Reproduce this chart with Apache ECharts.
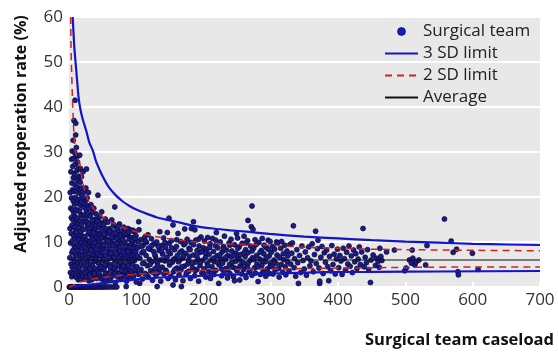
<!DOCTYPE html>
<html><head><meta charset="utf-8">
<script src="https://cdn.jsdelivr.net/npm/echarts@6/dist/echarts.min.js"></script>
<style>html,body{margin:0;padding:0;background:#fff}#c{width:558px;height:352px}</style>
</head><body><div id="c"></div>
<script>
// ---- data: [caseload, adjusted reoperation rate %] ----
const zeroRateTeams = [[0.5,0],[1.5,0],[2.5,0],[3.5,0],[4.5,0],[5.5,0],[6.5,0],[7.5,0],[8.5,0],[9.5,0],[11,0],[12.5,0],[14,0],[15.5,0],[17,0],[18.5,0],[20,0],[21.5,0],[23,0],[24.5,0],[26,0],[28,0],[30,0],[32,0],[34,0],[36,0],[38,0],[40,0],[42.5,0],[45,0],[47.5,0],[50,0],[53,0],[56,0],[59,0],[63,0],[67,0],[71,0],[85,0.1],[105,0.8],[131,0.1],[154.6,0.45],[167,0.1]];
const teamsUnder10 = [[1.2,6.5],[1.5,13],[1.8,21],[2.1,3.2],[2.3,9.8],[2.6,17.5],[2.8,25.6],[3.1,5.1],[3.3,11.9],[3.5,15.4],[3.7,19.8],[3.9,28.4],[4.1,2.3],[4.3,7.6],[4.4,23.1],[4.6,13.7],[4.8,30.2],[5.0,4.4],[5.2,10.3],[5.3,17.1],[5.5,21.6],[5.7,26.8],[5.9,8.1],[6.0,14.9],[6.2,32.6],[6.3,2.9],[6.5,19.1],[6.6,24.3],[6.8,6.2],[6.9,11.4],[7.1,28.6],[7.2,16.3],[7.4,37.0],[7.5,21.2],[7.7,3.9],[7.8,9.1],[8.0,13.2],[8.1,25.2],[8.3,18.4],[8.4,29.9],[8.6,5.6],[8.7,22.8],[8.9,10.7],[9.0,41.5],[9.1,15.6],[9.2,27.3],[9.4,2.6],[9.5,7.3],[9.6,19.9],[9.8,12.4],[9.9,33.8],[10.0,36.4],[10.1,24.1],[10.2,4.8],[10.3,17.2],[10.4,8.8],[10.6,29.1],[10.7,21.4],[10.8,14.3],[10.9,31.0]];
const teams10to20 = [[11.2,2.1],[11.4,6.9],[11.5,12.1],[11.7,18.7],[11.9,25.9],[12.1,9.6],[12.2,15.3],[12.4,22.2],[12.6,3.7],[12.7,27.8],[12.9,11.0],[13.0,29.1],[13.2,5.5],[13.3,19.4],[13.5,14.1],[13.7,23.6],[13.8,8.2],[14.0,1.6],[14.1,17.0],[14.3,26.4],[14.5,10.5],[14.6,20.9],[14.8,4.3],[15.0,13.2],[15.1,24.6],[15.3,7.4],[15.5,16.8],[15.6,2.8],[15.8,21.7],[15.9,29.3],[16.0,11.6],[16.2,5.9],[16.3,18.2],[16.5,9.0],[16.7,23.3],[16.8,14.7],[17.0,3.4],[17.2,26.3],[17.3,7.0],[17.5,19.6],[17.7,12.3],[17.9,1.9],[18.0,16.0],[18.2,22.0],[18.4,24.5],[18.4,9.9],[18.7,5.1],[18.9,13.9],[19.0,18.9],[19.2,3.0],[19.4,8.6],[19.6,20.4],[19.7,11.3],[19.9,15.9],[20.0,6.4]];
const teams20to30 = [[20.4,2.4],[20.7,12.8],[20.8,25.6],[20.8,7.0],[21.0,17.7],[21.2,3.3],[21.6,9.3],[21.9,4.6],[22.0,10.8],[22.2,14.6],[22.5,21.1],[22.8,7.8],[22.9,16.0],[23.0,1.7],[23.3,11.2],[23.6,18.6],[23.8,8.0],[23.9,5.3],[24.2,15.2],[24.5,3.1],[24.7,9.7],[24.8,19.4],[25.0,22.0],[25.3,12.9],[25.6,7.1],[25.9,16.9],[25.9,4.0],[26.0,26.2],[26.3,2.2],[26.6,10.4],[26.8,14.5],[26.9,19.8],[27.2,5.8],[27.5,13.7],[27.6,18.0],[27.8,8.5],[28.0,3.6],[28.3,16.2],[28.4,6.2],[28.6,11.8],[28.9,21.0],[29.0,10.0],[29.2,6.7],[29.5,1.4],[29.6,17.5],[29.8,14.0],[30.0,9.4],[30.0,4.5]];
const teams30to50 = [[30.5,12.2],[30.8,2.7],[31.0,9.0],[31.2,7.5],[31.5,15.7],[31.9,10.1],[32.3,5.0],[32.6,18.3],[33.0,3.8],[33.0,11.5],[33.4,13.1],[33.8,8.9],[34.1,1.6],[34.5,11.0],[34.9,16.6],[35.0,4.8],[35.3,6.3],[35.7,14.2],[36.0,3.2],[36.4,9.2],[36.8,17.5],[37.0,7.0],[37.2,12.6],[37.6,5.7],[38.0,2.1],[38.4,15.0],[38.8,7.9],[39.0,13.0],[39.2,10.8],[39.6,4.1],[40.0,13.6],[40.4,16.2],[40.8,6.6],[41.0,11.0],[41.2,1.9],[41.6,9.6],[42.0,12.0],[42.4,3.5],[42.8,15.1],[43.0,20.4],[43.0,5.5],[43.6,7.2],[44.0,10.4],[44.4,5.2],[44.8,13.3],[45.0,11.8],[45.2,2.5],[45.6,8.4],[46.0,15.6],[46.4,11.5],[46.8,4.6],[47.0,9.8],[47.2,6.9],[47.6,14.1],[48.0,9.1],[48.4,1.8],[48.6,16.7],[48.8,12.7],[49.0,14.3],[49.2,3.9],[49.6,7.6],[50.0,10.9],
  [31.5,4.0],[32.5,8.2],[33.5,6.3],[34.5,14.8],[35.5,10.5],[36.5,12.0],[37.5,2.9],[38.5,9.9],[39.5,6.1],[40.5,8.3],[41.5,14.6],[42.5,7.4],[43.5,9.3],[44.5,3.1],[45.5,13.9],[46.5,7.0],[47.5,4.4],[48.5,11.0],[49.5,5.9]];
const teams50to100 = [[50.5,2.3],[51,6.1],[51.5,13.8],[52,8.6],[52.5,4.3],[53,11.4],[53.5,1.2],[54,15.1],[54.5,7.0],[55,9.9],[55.5,3.1],[56,12.5],[56.5,5.5],[57,10.6],[57.5,14.4],[58,2.0],[58.5,7.8],[59,4.8],[59.5,11.9],[60,9.1],[60.5,6.4],[61,13.0],[61.5,1.5],[62,3.7],[62.5,10.2],[63,8.0],[63.5,14.9],[64,5.0],[64.5,12.2],[65,2.7],[65.5,7.1],[66.5,9.6],[67,4.2],[67.5,11.1],[68,17.8],[68,6.0],[68.5,13.5],[69,1.0],[69.5,8.5],[70,3.4],[70.5,10.8],[71,5.7],[71.5,12.9],[72,7.5],[72.5,2.2],[73,9.3],[73.5,4.6],[74,11.7],[74.5,6.8],[75,14.0],[75.5,3.0],[76,8.9],[76.5,10.3],[77,5.2],[77.5,1.7],[78,12.4],[78.5,7.3],[79,4.0],[79.5,9.8],[80,6.3],[80.5,11.2],[81,2.6],[81.5,13.3],[82,8.1],[82.5,5.0],[83,10.0],[83.5,3.5],[84,7.0],[84.5,12.0],[87.7,13.0],[85.5,1.3],[86,9.2],[86.5,4.4],[87,6.6],[87.5,11.5],[88,2.9],[88.5,8.4],[89,5.8],[89.5,10.6],[90,3.8],[90.5,7.7],[91,12.7],[91.5,1.9],[92,9.5],[92.5,5.4],[93,6.9],[93.5,11.0],[94,3.2],[94.5,8.2],[95,4.9],[95.5,10.1],[96,2.4],[96.5,7.2],[97,12.3],[97.5,5.9],[98,9.0],[98.5,3.6],[99,6.5],[99.5,11.4],[100,1.1],
  [51.2,9.3],[52.2,11.7],[53.2,4.9],[54.2,3.0],[55.2,12.9],[56.2,8.4],[57.2,2.6],[58.2,10.3],[59.2,6.5],[60.2,12.4],[61.2,4.5],[62.2,7.5],[63.2,11.0],[64.2,2.4],[65.2,9.2],[66.2,13.9],[67.2,6.6],[68.2,3.0],[69.2,11.9],[70.2,7.4],[71.2,9.7],[72.2,4.8],[73.2,13.5],[74.2,2.9],[75.2,8.0],[76.2,5.6],[77.2,11.4],[78.2,3.7],[79.2,10.6],[80.2,4.6],[81.2,7.8],[82.2,12.0],[83.2,6.2],[84.2,9.0],[85.2,2.3],[86.2,11.9],[87.2,7.9],[88.2,4.7],[89.2,12.2],[90.2,6.0],[91.2,8.8],[92.2,3.4],[93.2,10.4],[94.2,6.0],[95.2,12.6],[96.2,8.6],[97.2,3.9],[98.2,10.8],[99.2,7.9]];
const teams100to200 = [[100.8,4.5],[101.9,8.7],[103.6,14.5],[104,12.7],[103.7,2.8],[105.1,6.4],[106.3,10.5],[107.0,3.9],[108.4,7.6],[109.2,1.8],[110.1,9.3],[111.5,5.3],[112.3,11.0],[113.0,3.0],[114.6,7.0],[115.2,9.9],[116.4,4.7],[117.3,11.6],[118.1,2.2],[119.5,6.1],[120.2,8.4],[121.4,3.6],[122.6,10.7],[123.3,5.6],[124.1,1.5],[125.7,7.9],[126.2,9.6],[127.8,4.1],[128.5,6.7],[129.3,2.6],[130.4,10.0],[131.6,5.0],[135,12.3],[133.5,3.3],[134.1,8.1],[135.7,6.0],[136.3,1.3],[137.0,9.2],[138.6,4.4],[139.2,7.3],[140.5,10.9],[141.1,2.9],[142.7,5.8],[143.4,8.8],[144.0,3.7],[145.6,6.6],[146.1,12.1],[147.3,1.9],[148.6,15.3],[148.8,9.7],[149.5,4.9],[150.7,7.4],[151.4,2.4],[152.2,10.3],[153.6,5.5],[154.6,13.8],[155.3,3.4],[156.9,8.3],[157.4,6.3],[158.2,1.6],[159.7,9.0],[160.4,4.2],[161.1,7.0],[162.0,11.9],[163.5,2.7],[164.2,5.9],[165.8,10.1],[166.3,3.8],[167.6,8.0],[168.9,6.4],[169.4,1.4],[170.7,9.4],[171.3,4.6],[172.0,12.9],[173.5,7.5],[174.1,2.8],[175.6,10.6],[176.2,5.1],[177.9,3.5],[178.4,8.6],[179.0,6.8],[180.5,1.9],[181.3,9.9],[182.0,13.0],[183.6,4.3],[185.0,14.5],[185.0,7.1],[187.0,12.7],[186.8,2.5],[187.5,5.5],[188.3,10.4],[189.9,3.9],[190.4,8.1],[191.2,6.2],[192.6,1.3],[193.3,9.1],[194.7,4.8],[195.4,7.7],[196.1,11.1],[197.5,3.1],[198.2,5.9],[199.7,8.7],
  [101.5,6.9],[103,10.0],[105.5,3.1],[107.5,9.0],[109.5,5.2],[111,7.9],[113.5,10.2],[115.5,2.7],[118,8.6],[120.5,5.0],[123,9.2],[125,3.2],[127.5,7.2],[130,5.8],[132.5,9.0],[135,4.0],[137.5,8.0],[140,6.0],[142.5,9.9],[145,3.3],[147.5,7.9],[150,5.5],
  [152.5,8.7],[155,6.1],[157.5,3.9],[160,10.5],[162.5,5.6],[165,7.7],[167.5,4.5],[170,6.8],[172.5,9.7],[175,3.2],[177.5,6.0],[180,8.3],[182.5,5.3],[185,9.4],[187.5,3.6],[190,6.9],[192.5,10.6],[195,5.5],[197.5,7.9],[200,2.9]];
const teams200to300 = [[200.6,4.0],[201.3,10.2],[202.9,6.6],[203.4,2.2],[204.8,8.4],[205.5,5.2],[206.1,11.0],[207.7,3.4],[208.2,7.3],[209.6,9.6],[210.3,1.9],[211.0,6.0],[212.5,4.5],[213.2,10.8],[214.8,7.9],[215.4,2.8],[216.0,5.6],[217.6,9.2],[218.3,3.7],[219.0,12.1],[219.9,6.9],[221.2,8.7],[222.5,0.8],[223.1,4.9],[224.7,10.0],[225.3,6.3],[226.9,2.5],[227.6,7.8],[228.2,5.3],[229.8,9.0],[230.4,3.2],[231.1,11.3],[232.7,6.1],[233.3,4.1],[234.0,8.2],[235.6,2.0],[236.2,7.0],[237.9,9.8],[238.5,5.0],[239.1,3.0],[240.8,10.6],[241.4,6.7],[242.0,8.0],[243.7,4.4],[244.3,2.3],[245.9,9.4],[246.0,1.4],[247.6,5.7],[248.2,7.5],[249.0,11.9],[249.8,3.6],[250.5,10.9],[251.1,6.4],[252.8,8.9],[253.7,1.55],[254.4,4.7],[255.0,7.2],[256.7,2.9],[257.3,9.7],[258.9,5.4],[259.6,3.9],[260.2,11.3],[261.8,6.8],[262.5,8.3],[263.1,2.1],[264.7,4.6],[265.4,10.3],[266.0,7.6],[267.6,3.3],[266.0,14.8],[269.3,5.9],[270.0,9.1],[271.0,13.4],[272.0,18.0],[271.9,2.6],[272.6,6.5],[273.5,12.8],[274.3,8.6],[275.8,4.3],[276.5,10.5],[277.1,3.1],[278.8,7.0],[279.4,5.1],[281.0,1.2],[282.1,9.9],[283.7,6.2],[284.3,2.8],[285.9,8.1],[286.6,4.8],[287.2,10.8],[288.8,3.6],[289.5,7.4],[290.0,9.3],[291.8,5.6],[292.4,2.4],[293.0,8.8],[294.7,4.0],[296.0,10.4],[297.5,6.9],[298.2,3.0],[299.0,10.1],[299.6,5.3],
  [203,7.6],[206,4.7],[209,8.8],[212,3.1],[215,6.4],[218,10.4],[221,5.5],[224,7.1],[227,4.0],[230,8.5],[233,6.6],[236,3.9],[239,9.3],[242,5.4],[245,7.0],[248,4.1],[251,8.6],[254,6.0],[257,4.3],[260,7.6],[263,9.8],[266,5.2],[269,3.7],[272,8.0],[275,6.1],[278,9.4],[281,4.5],[284,7.7],[287,5.8],[290,3.2],[293,6.5],[296,8.4],[299,4.6]];
const teams300to400 = [[300.5,7.7],[301.8,4.6],[302.6,9.0],[303.3,2.9],[304.9,6.0],[305.6,8.4],[306.4,3.8],[307.9,5.2],[308.5,10.0],[309.2,7.1],[310.0,9.8],[311.6,4.1],[312.3,2.2],[313.0,6.6],[314.7,8.6],[315.4,5.0],[316.0,10.1],[317.8,3.3],[318.5,7.4],[319.1,6.1],[320.8,9.3],[321.5,4.5],[322.2,2.7],[323.9,8.0],[324.6,5.6],[325.3,6.9],[327.0,3.6],[328.7,9.5],[329.4,5.1],[331.1,7.5],[332.0,9.8],[333.5,13.6],[334.6,4.3],[335.3,6.3],[336.9,2.4],[338.6,8.3],[340.0,5.4],[341.0,0.8],[342.7,7.0],[344.4,3.2],[346.1,9.1],[347.8,5.9],[349.5,4.0],[351.2,7.8],[352.9,2.6],[354.6,6.5],[356.3,8.9],[358.0,4.7],[359.7,5.8],[361.4,9.6],[363.1,3.4],[364.8,7.2],[366.5,12.4],[367.5,5.2],[369.2,8.5],[370.0,10.4],[371.6,4.2],[372.5,0.8],[372.6,1.3],[374.3,6.6],[376.0,9.0],[377.7,3.0],[379.4,7.6],[381.1,5.5],[382.8,8.2],[384.5,4.5],[386.0,1.4],[387.2,6.8],[388.9,3.6],[390.6,9.2],[392.3,5.0],[394.0,7.3],[395.7,2.9],[397.4,6.2],[399.1,8.4]];
const teams400to500 = [[400.8,4.3],[402.5,7.0],[404.2,5.8],[405.9,2.8],[407.6,8.6],[409.3,6.3],[411.0,3.8],[412.7,7.7],[414.4,5.1],[416.1,9.1],[417.8,4.6],[419.5,6.9],[421.2,3.2],[422.9,8.2],[424.6,5.6],[426.3,7.4],[428.0,4.1],[429.7,6.2],[431.4,8.9],[433.1,5.0],[435.0,7.8],[437.0,13.0],[438.5,4.5],[440.2,6.6],[442.0,5.4],[443.6,8.3],[445.3,3.9],[448.0,1.0],[449.0,6.0],[452.0,7.1],[455.5,4.8],[457.0,6.4],[459.5,5.7],[461.0,4.4],[462.0,8.6],[463.5,6.8],[465.0,5.9],[472.0,7.8],[483.6,8.2],[499,3.6]];
const teamsOver500 = [[501,4.2],[506,6.0],[509,5.3],[510,8.2],[511,6.4],[514,4.9],[516,5.6],[520,6.0],[530,4.9],[532,9.2],[558,15.1],[568,10.2],[571,7.7],[576,8.4],[578,3.4],[578.7,2.7],[599.5,7.5],[608,3.9]];

// control limits: [caseload, rate %]
const limit3Upper = [[5.5,60],[6.5,57],[8,53],[10,49.5],[12,46],[14,42.5],[16.3,40],[20,37.5],[26,34.5],[30,32.2],[35.7,30.2],[40,28],[45.6,26],[50,24.6],[55,23.2],[60.5,21.9],[70,20.3],[80,19.0],[90,18.0],[100,17.2],[115,16.3],[130,15.5],[150,14.8],[165,14.3],[185,13.6],[214,13.0],[240,12.6],[264,12.3],[298,11.8],[350,11.2],[400,10.8],[450,10.4],[500,10.1],[550,9.85],[600,9.6],[650,9.45],[700,9.33]];
const limit2Upper = [[2.5,60],[3,54],[3.5,50],[4.5,45],[5.5,40],[7,35],[9,30.5],[12,28.8],[16,27.5],[18,25.3],[20.8,23],[25,20.6],[30.8,18.6],[40,16.8],[50,15.6],[60,14.6],[70,13.9],[80,13.3],[95,12.5],[115,11.6],[140,10.9],[165,10.4],[190,10.0],[214,9.7],[250,9.5],[293,9.3],[350,8.85],[400,8.6],[450,8.4],[500,8.3],[600,8.15],[700,8.05]];
const limit2Lower = [[0,0],[5,0.3],[10,0.6],[20,1.2],[30,1.6],[40,1.9],[60,2.3],[80,2.6],[100,2.8],[150,3.3],[200,3.7],[250,3.9],[300,4.0],[400,4.2],[500,4.35],[600,4.45],[700,4.45]];
const limit3Lower = [[0,0],[10,0.15],[25,0.4],[50,0.85],[75,1.3],[100,1.7],[125,2.0],[150,2.2],[200,2.5],[250,2.8],[300,3.0],[380,3.3],[450,3.35],[550,3.45],[700,3.55]];
const averageRate = [[0,6.0],[700,6.0]];

const xTicks = [0,100,200,300,400,500,600,700];
const yTicks = [0,10,20,30,40,50,60];

const teams = [].concat(zeroRateTeams, teamsUnder10, teams10to20, teams20to30, teams30to50,
  teams50to100, teams100to200, teams200to300, teams300to400, teams400to500, teamsOver500);

const FONT = 'Open Sans';
const hideSym = {color: 'rgba(0,0,0,0)', borderColor: 'rgba(0,0,0,0)', borderWidth: 0, opacity: 0};
const chart = echarts.init(document.getElementById('c'), null, {renderer:'canvas'});
chart.setOption({
  animation: false,
  backgroundColor: '#ffffff',
  textStyle: {fontFamily: FONT},
  grid: {left: 69, right: 18, top: 17, bottom: 65, show: true, backgroundColor: '#e8e8e8', borderWidth: 0},
  xAxis: {
    type: 'value', min: xTicks[0], max: xTicks[xTicks.length-1], interval: xTicks[1]-xTicks[0],
    axisLine: {show: false},
    axisTick: {show: true, inside: true, length: 5, lineStyle: {color: '#ffffff', width: 2}},
    splitLine: {show: false},
    axisLabel: {color: '#333', fontSize: 17, margin: 5, fontFamily: FONT}
  },
  yAxis: {
    type: 'value', min: yTicks[0], max: yTicks[yTicks.length-1], interval: yTicks[1]-yTicks[0],
    axisLine: {show: false}, axisTick: {show: false},
    splitLine: {show: true, lineStyle: {color: '#ffffff', width: 2}},
    axisLabel: {color: '#333', fontSize: 17, margin: 6, fontFamily: FONT}
  },
  legend: {
    orient: 'vertical', left: 379, top: 18, itemWidth: 33, itemHeight: 8, itemGap: 5,
    textStyle: {fontSize: 17, color: '#222', fontFamily: FONT},
    data: [
      {name: 'Surgical team', icon: 'circle', itemStyle: {color: '#1a1ac4', borderColor: '#05052a', borderWidth: 0.6}},
      {name: '3 SD limit', itemStyle: hideSym},
      {name: '2 SD limit', itemStyle: hideSym},
      {name: 'Average', itemStyle: hideSym}
    ]
  },
  graphic: [
    {type: 'text', x: 21, y: 134, rotation: Math.PI/2,
     style: {text: 'Adjusted reoperation rate (%)', font: 'bold 16px "Open Sans"', fill: '#111', align: 'center', verticalAlign: 'middle'}},
    {type: 'text', right: 4, top: 332,
     style: {text: 'Surgical team caseload', font: 'bold 16.5px "Open Sans"', fill: '#111'}}
  ],
  series: [
    {name: 'Surgical team', type: 'scatter', data: teams, symbol: 'circle', symbolSize: 5,
     itemStyle: {color: '#1b1b8c', borderColor: '#08082a', borderWidth: 0.7, opacity: 1}},
    {name: '3 SD limit', type: 'line', data: limit3Upper, showSymbol: false, symbol: 'none', smooth: 0.2,
     lineStyle: {color: '#1414c8', width: 2.2}, itemStyle: {color: '#1414c8'}},
    {name: '3 SD limit', type: 'line', data: limit3Lower, showSymbol: false, symbol: 'none', smooth: 0.2,
     lineStyle: {color: '#1414c8', width: 2.2}, itemStyle: {color: '#1414c8'}},
    {name: '2 SD limit', type: 'line', data: limit2Upper, showSymbol: false, symbol: 'none', smooth: 0.2,
     lineStyle: {color: '#d42020', width: 1.5, type: [7,5]}, itemStyle: {color: '#d42020'}},
    {name: '2 SD limit', type: 'line', data: limit2Lower, showSymbol: false, symbol: 'none', smooth: 0.2,
     lineStyle: {color: '#d42020', width: 1.5, type: [7,5]}, itemStyle: {color: '#d42020'}},
    {name: 'Average', type: 'line', data: averageRate, showSymbol: false, symbol: 'none',
     lineStyle: {color: '#111111', width: 1}, itemStyle: {color: '#111111'}}
  ]
});
</script></body></html>
